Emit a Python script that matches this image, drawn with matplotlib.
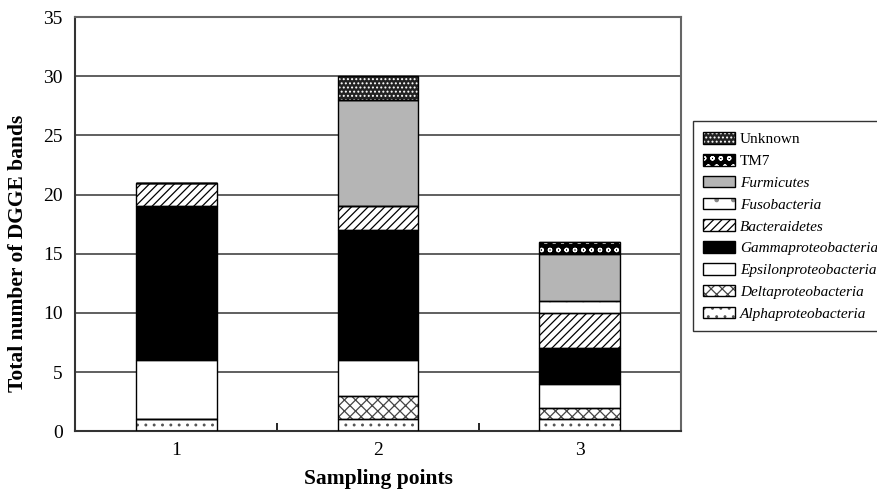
import numpy as np
import matplotlib
matplotlib.use('Agg')
import matplotlib.pyplot as plt
from matplotlib.patches import Patch

plt.rcParams['font.family'] = 'Liberation Serif'
plt.rcParams['hatch.linewidth'] = 0.9

points = ['1', '2', '3']
# values per sampling point (bottom -> top)
alpha = [1, 1, 1]
delta = [0, 2, 1]
epsilon = [5, 3, 2]
gamma = [13, 11, 3]
bacter = [2, 2, 3]
fuso = [0, 0, 1]
furm = [0, 9, 4]
tm7 = [0, 0, 1]
unknown = [0, 2, 0]

series = [
    ('Alphaproteobacteria', alpha, 'white', '#555555', '..', True),
    ('Deltaproteobacteria', delta, 'white', '#444444', 'xxx', True),
    ('Epsilonproteobacteria', epsilon, 'white', 'white', '', True),
    ('Gammaproteobacteria', gamma, 'black', 'black', '', True),
    ('Bacteraidetes', bacter, 'white', 'black', '////', True),
    ('Fusobacteria', fuso, 'white', '#888888', '.', True),
    ('Furmicutes', furm, '#b5b5b5', '#b5b5b5', '', True),
    ('TM7', tm7, 'black', 'white', 'oo', False),
    ('Unknown', unknown, '#222222', 'white', '....', False),
]

fig = plt.figure(figsize=(8.77, 4.90), dpi=100)
ax = fig.add_axes([0.086, 0.120, 0.690, 0.845])

x = np.arange(1, 4)
w = 0.4
bottom = np.zeros(3)
handles = []
for name, vals, fc, hc, h, ital in series:
    vals = np.array(vals, dtype=float)
    ax.bar(x, vals, w, bottom=bottom, color=fc, edgecolor=hc, hatch=h,
           linewidth=0, zorder=2)
    ax.bar(x, vals, w, bottom=bottom, fill=False, edgecolor='black',
           linewidth=1.0, zorder=3)
    bottom += vals
    handles.append((Patch(facecolor=fc, edgecolor=hc, hatch=h, linewidth=0),
                    Patch(fill=False, edgecolor='black', linewidth=1.0)))

ax.set_xlim(0.5, 3.5)
ax.set_ylim(0, 35)
ax.set_yticks(np.arange(0, 36, 5))
ax.yaxis.grid(True, color='#444444', linewidth=1.2, zorder=0)
ax.set_axisbelow(True)
ax.tick_params(axis='y', length=0, labelsize=14, pad=9)
ax.set_xticks(x)
ax.set_xticklabels(points)
ax.set_xticks([1.5, 2.5, 3.5], minor=True)
ax.tick_params(axis='x', which='major', length=0, labelsize=14, pad=8)
ax.tick_params(axis='x', which='minor', direction='in', length=6, width=1.2)
for s in ['left', 'bottom']:
    ax.spines[s].set_linewidth(1.5)
    ax.spines[s].set_color('#333333')
for s in ['top', 'right']:
    ax.spines[s].set_linewidth(1.5)
    ax.spines[s].set_color('#666666')

ax.set_xlabel('Sampling points', fontsize=15.5, fontweight='bold', labelpad=7)
ax.set_ylabel('Total number of DGGE bands', fontsize=15.5, fontweight='bold')
ax.yaxis.set_label_coords(-0.078, 0.43)

leg = ax.legend(handles[::-1], [s[0] for s in series][::-1],
                loc='upper left', bbox_to_anchor=(1.02, 0.748),
                fontsize=11, frameon=True, fancybox=False, edgecolor='black',
                handlelength=2.1, handleheight=0.8, labelspacing=0.5,
                handletextpad=0.3, borderpad=0.7, borderaxespad=0)
leg.get_frame().set_linewidth(1.0)
for t, s in zip(leg.get_texts(), series[::-1]):
    if s[5]:
        t.set_style('italic')

fig.savefig('out.png', dpi=100)
